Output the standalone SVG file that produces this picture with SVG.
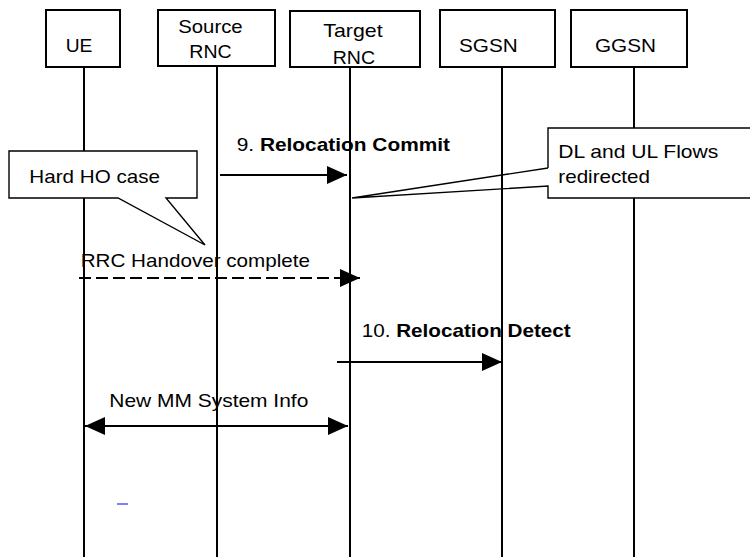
<svg xmlns="http://www.w3.org/2000/svg" width="750" height="557" viewBox="0 0 750 557">
<style>
text{font-family:"Liberation Sans",Arial,sans-serif;font-size:19px;fill:#000}
.b{font-weight:bold}
.box{fill:#fff;stroke:#000;stroke-width:2}
.life{stroke:#000;stroke-width:2}
.msg{stroke:#000;stroke-width:2;fill:none}
.dash{stroke-dasharray:12 5}
.call{stroke:#000;stroke-width:1.4;fill:none}
</style>
<defs>
<marker id="ah" markerUnits="userSpaceOnUse" markerWidth="20" markerHeight="18" refX="20" refY="9" orient="auto-start-reverse">
<path d="M0,0 L20,9 L0,18 Z" fill="#000"/>
</marker>
</defs>
<rect width="750" height="557" fill="#fff"/>
<g id="labels">
<text x="236.7" y="150.5" textLength="213.3" lengthAdjust="spacingAndGlyphs">9. <tspan class="b">Relocation Commit</tspan></text>
<text x="80.7" y="266.7" textLength="229.3" lengthAdjust="spacingAndGlyphs">RRC Handover complete</text>
<text x="361.7" y="336.7" textLength="209" lengthAdjust="spacingAndGlyphs">10. <tspan class="b">Relocation Detect</tspan></text>
<text x="109.3" y="407.3" textLength="199" lengthAdjust="spacingAndGlyphs">New MM System Info</text>
</g>
<g id="UE">
<rect class="box" x="46" y="10" width="74" height="57"/>
<text x="65.7" y="52" textLength="26.7" lengthAdjust="spacingAndGlyphs">UE</text>
<line class="life" x1="84" y1="67" x2="84" y2="557"/>
</g>
<g id="SourceRNC">
<rect class="box" x="158" y="10" width="117" height="56"/>
<text x="178.3" y="33" textLength="64.3" lengthAdjust="spacingAndGlyphs">Source</text>
<text x="189.3" y="58" textLength="42.3" lengthAdjust="spacingAndGlyphs">RNC</text>
<line class="life" x1="217" y1="66" x2="217" y2="557"/>
</g>
<g id="TargetRNC">
<rect class="box" x="290" y="11" width="130" height="56"/>
<text x="323.3" y="37" textLength="59.3" lengthAdjust="spacingAndGlyphs">Target</text>
<text x="332.7" y="64" textLength="42.3" lengthAdjust="spacingAndGlyphs">RNC</text>
<line class="life" x1="350" y1="67" x2="350" y2="557"/>
</g>
<g id="SGSN">
<rect class="box" x="440" y="10" width="115" height="57"/>
<text x="459" y="52" textLength="58.7" lengthAdjust="spacingAndGlyphs">SGSN</text>
<line class="life" x1="502" y1="67" x2="502" y2="557"/>
</g>
<g id="GGSN">
<rect class="box" x="571" y="10" width="116" height="57"/>
<text x="595" y="52" textLength="61" lengthAdjust="spacingAndGlyphs">GGSN</text>
<line class="life" x1="634" y1="67" x2="634" y2="557"/>
</g>
<g id="connectors">
<line class="msg" x1="220" y1="175" x2="347" y2="175" marker-end="url(#ah)"/>
<line class="msg dash" x1="79" y1="278" x2="360" y2="278" marker-end="url(#ah)"/>
<line class="msg" x1="337" y1="362" x2="502" y2="362" marker-end="url(#ah)"/>
<line class="msg" x1="85" y1="426" x2="348" y2="426" marker-start="url(#ah)" marker-end="url(#ah)"/>
</g>
<g id="HardHO">
<path d="M9,151 H197 V198 H166 L205,245 L118,198 H9 Z" fill="#fff" stroke="#000" stroke-width="1.4"/>
<text x="29.3" y="183.3" textLength="130.7" lengthAdjust="spacingAndGlyphs">Hard HO case</text>
</g>
<g id="DLULFlows">
<rect x="548" y="128" width="212" height="70" fill="#fff"/>
<path class="call" d="M548,168 V128 H760 M760,198 H548 V186 L352,198 L548,168"/>
<text x="558.3" y="158.3" textLength="160" lengthAdjust="spacingAndGlyphs">DL and UL Flows</text>
<text x="558.3" y="183.3" textLength="91.7" lengthAdjust="spacingAndGlyphs">redirected</text>
</g>
<line x1="117" y1="504" x2="128" y2="504" stroke="#0000ff" stroke-width="1"/>
</svg>
